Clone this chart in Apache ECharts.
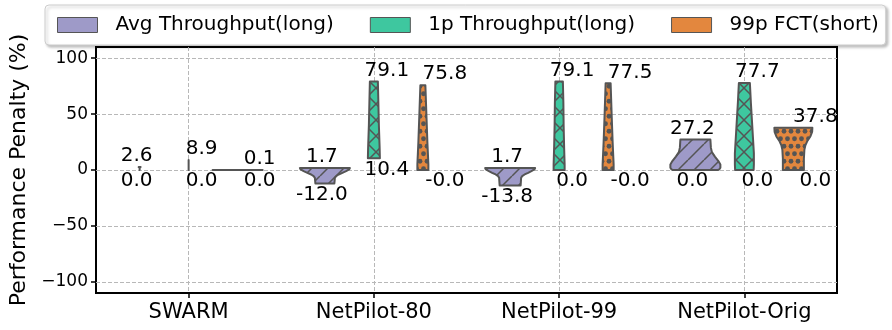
<!DOCTYPE html>
<html>
<head>
<meta charset="utf-8">
<script src="https://cdn.jsdelivr.net/npm/echarts@6/dist/echarts.min.js"></script>
<style>
html, body { margin: 0; padding: 0; background: #fff; }
#chart { width: 892px; height: 330px; }
</style>
</head>
<body>
<div id="chart"></div>
<script>
// ---- data ----
const categories = ['SWARM', 'NetPilot-80', 'NetPilot-99', 'NetPilot-Orig'];
const seriesNames = ['Avg Throughput(long)', '1p Throughput(long)', '99p FCT(short)'];
const xTicks = [0, 1, 2, 3];
const yTicks = [-100, -50, 0, 50, 100];

const avgMin = [0.0, -12.0, -13.8, 0.0];
const avgMax = [2.6, 1.7, 1.7, 27.2];
const p1Min = [0.0, 10.4, 0.0, 0.0];
const p1Max = [8.9, 79.1, 79.1, 77.7];
const p99Min = [0.0, -0.01, -0.01, 0.0];
const p99Max = [0.1, 75.8, 77.5, 37.8];

// violin outlines: [value, relative width]
const avgShape = [
	[[2.6, 0.04], [2.2, 0.0], [0, 0.0]],
	[[1.7, 1.0], [0.5, 0.97], [-1, 0.85], [-2.5, 0.7], [-4, 0.55], [-5.5, 0.45], [-7, 0.4], [-12, 0.38]],
	[[1.7, 1.0], [0.5, 0.97], [-1, 0.85], [-2.5, 0.72], [-4, 0.58], [-5.5, 0.48], [-7, 0.44], [-13.8, 0.42]],
	[[27.2, 0.6], [20, 0.62], [16, 0.66], [12, 0.78], [8, 0.92], [5, 1.0], [2, 1.0], [0.6, 0.96], [0, 0.9]]
];
const p1Shape = [
	[[8.9, 0], [0, 0]],
	[[79.1, 0.16], [60, 0.18], [40, 0.2], [20, 0.23], [10.4, 0.24]],
	[[79.1, 0.15], [60, 0.17], [40, 0.18], [20, 0.2], [5, 0.22], [0, 0.22]],
	[[77.7, 0.22], [60, 0.26], [45, 0.3], [30, 0.34], [15, 0.38], [5, 0.38], [0, 0.37]]
];
const p99Shape = [
	[[0.1, 1.0], [0, 1.0]],
	[[75.8, 0.1], [50, 0.14], [25, 0.18], [5, 0.22], [-0.01, 0.22]],
	[[77.5, 0.1], [50, 0.14], [25, 0.18], [5, 0.22], [-0.01, 0.22]],
	[[37.8, 0.76], [34, 0.75], [30, 0.68], [26, 0.56], [22, 0.48], [18, 0.44], [10, 0.42], [0, 0.42]]
];

// ---- style ----
const FONT = 'DejaVu Sans';
const colors = ['#9e9ac8', '#3ec79f', '#e3873e'];
const edge = '#555555';
const hueOffset = [-0.2645, 0, 0.2645];
const violinWidth = 0.27;
const labelShift = [-3, 13, 22];

function hatchPattern(bg, kind) {
	const c = document.createElement('canvas');
	const w = kind === 'o' ? 7 : 16;
	const h = kind === 'o' ? 15 : 16;
	c.width = w;
	c.height = h;
	const ctx = c.getContext('2d');
	ctx.fillStyle = bg;
	ctx.fillRect(0, 0, w, h);
	ctx.strokeStyle = edge;
	ctx.fillStyle = edge;
	ctx.lineWidth = 1.5;
	if (kind === '/' || kind === 'x') {
		ctx.beginPath();
		[-w, 0, w].forEach(function (off) {
			ctx.moveTo(off, h);
			ctx.lineTo(off + w, 0);
			if (kind === 'x') {
				ctx.moveTo(off, 0);
				ctx.lineTo(off + w, h);
			}
		});
		ctx.stroke();
	} else {
		[[3.5, 3.75], [0, 11.25], [7, 11.25]].forEach(function (p) {
			ctx.beginPath();
			ctx.arc(p[0], p[1], 2.4, 0, Math.PI * 2);
			ctx.fill();
		});
	}
	return { image: c, repeat: 'repeat' };
}

const chart = echarts.init(document.getElementById('chart'));

function makeSeries(k, mins, maxs, shapes, kind) {
	const pattern = hatchPattern(colors[k], kind);
	return {
		name: seriesNames[k],
		type: 'custom',
		itemStyle: { color: colors[k] },
		encode: { x: 0, y: [1, 2] },
		data: categories.map(function (c, i) { return [i, mins[i], maxs[i]]; }),
		renderItem: function (params, api) {
			const i = api.value(0);
			const lo = api.value(1);
			const hi = api.value(2);
			const cx = api.coord([i + hueOffset[k], 0])[0];
			const half = api.size([violinWidth, 0])[0] / 2;
			const prof = shapes[i];
			const right = prof.map(function (p) { return [cx + p[1] * half, api.coord([i, p[0]])[1]]; });
			const left = prof.slice().reverse().map(function (p) { return [cx - p[1] * half, api.coord([i, p[0]])[1]]; });
			const yTop = api.coord([i, hi])[1];
			const yBot = api.coord([i, lo])[1];
			const tx = cx + labelShift[k];
			return {
				type: 'group',
				children: [
					{
						type: 'polygon',
						shape: { points: right.concat(left) },
						style: { fill: pattern, stroke: edge, lineWidth: 2, lineJoin: 'round' }
					},
					{
						type: 'text',
						style: { text: hi.toFixed(1), x: tx, y: yTop - 1, align: 'center', verticalAlign: 'bottom', fontSize: 20, fontFamily: FONT, fill: '#000' }
					},
					{
						type: 'text',
						style: { text: lo.toFixed(1), x: tx, y: yBot + 1, align: 'center', verticalAlign: 'top', fontSize: 20, fontFamily: FONT, fill: '#000' }
					}
				]
			};
		}
	};
}

const gridLine = { show: true, lineStyle: { color: '#b8b8b8', type: [4, 2], width: 1 } };

const option = {
	animation: false,
	textStyle: { fontFamily: FONT },
	grid: { left: 96, right: 55, top: 47, bottom: 37, show: true, borderColor: '#000', borderWidth: 2 },
	legend: {
		data: seriesNames.map(function (n, k) {
			return { name: n, itemStyle: { color: colors[k], borderColor: edge, borderWidth: 1 } };
		}),
		left: 45,
		top: 5,
		width: 840,
		icon: 'rect',
		itemWidth: 40,
		itemHeight: 15,
		itemGap: 36,
		padding: [10, 7, 10, 12],
		backgroundColor: '#fff',
		borderColor: '#cccccc',
		borderWidth: 1,
		borderRadius: 4,
		shadowBlur: 3,
		shadowColor: 'rgba(0,0,0,0.25)',
		shadowOffsetX: 2,
		shadowOffsetY: 2,
		textStyle: { fontFamily: FONT, fontSize: 20, color: '#000', padding: [0, 0, 0, 13] }
	},
	xAxis: {
		type: 'value',
		min: -0.5,
		max: 3.5,
		axisLine: { show: false, onZero: false },
		axisTick: { show: true, customValues: xTicks, length: 5, lineStyle: { color: '#000', width: 1.5 } },
		axisLabel: {
			customValues: xTicks, margin: 9, fontSize: 21, fontFamily: FONT, color: '#000',
			formatter: function (v) { return categories[v]; }
		},
		splitLine: gridLine
	},
	yAxis: {
		type: 'value',
		min: -110,
		max: 110,
		name: 'Performance Penalty (%)',
		nameLocation: 'middle',
		nameGap: 66,
		nameTextStyle: { fontSize: 22, fontFamily: FONT, color: '#000' },
		axisLine: { show: false, onZero: false },
		axisTick: { show: true, customValues: yTicks, length: 5, lineStyle: { color: '#000', width: 1.5 } },
		axisLabel: {
			customValues: yTicks, margin: 8, fontSize: 17, fontFamily: FONT, color: '#000',
			formatter: function (v) { return v < 0 ? '\u2212' + (-v) : String(v); }
		},
		splitLine: gridLine
	},
	series: [
		makeSeries(0, avgMin, avgMax, avgShape, '/'),
		makeSeries(1, p1Min, p1Max, p1Shape, 'x'),
		makeSeries(2, p99Min, p99Max, p99Shape, 'o')
	]
};

chart.setOption(option);
</script>
</body>
</html>
